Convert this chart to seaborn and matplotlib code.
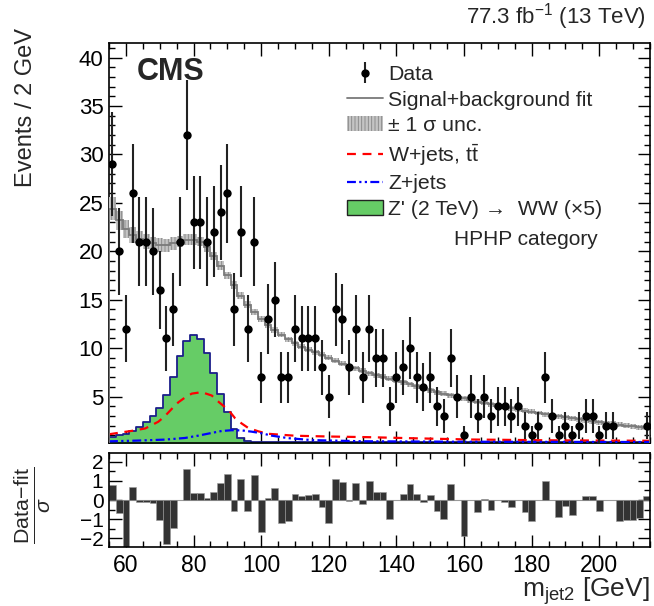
import numpy as np
import pandas as pd
import matplotlib
matplotlib.use("Agg")
import matplotlib.pyplot as plt
import seaborn as sns
from matplotlib.ticker import MultipleLocator
from matplotlib.lines import Line2D
from matplotlib.patches import Patch

# ---------------- data ----------------
bin_edges = np.arange(55, 216, 2)          # 2 GeV bins, 55..215
bin_centers = np.arange(56, 215, 2)

data_counts = [29, 20, 12, 26, 21, 21, 20, 16, 11, 14,
               21, 32, 23, 23, 21, 22, 24, 26, 14, 22,
               12, 21, 7, 13, 15, 7, 7, 12, 11, 11,
               11, 8, 5, 14, 13, 8, 12, 7, 12, 9,
               9, 4, 7, 8, 10, 7, 6, 7, 4, 3,
               9, 5, 1, 5, 3, 5, 3, 4, 4, 3,
               4, 2, 1, 2, 7, 3, 1, 2, 1, 2,
               3, 3, 1, 2, 2, 0, 0, 0, 0, 2]

fit_values = [24.4, 23.2, 22.3, 21.7, 21.3, 21.0, 20.8, 20.65, 20.6, 20.8,
              21.0, 21.2, 21.2, 21.0, 20.4, 19.5, 18.5, 17.5, 16.5, 15.4,
              14.5, 13.7, 13.0, 12.4, 11.9, 11.4, 10.9, 10.5, 10.15, 9.85,
              9.55, 9.3, 9.0, 8.7, 8.4, 8.15, 7.9, 7.65, 7.4, 7.2,
              7.05, 6.85, 6.65, 6.45, 6.25, 6.05, 5.85, 5.65, 5.45, 5.3,
              5.12, 4.95, 4.8, 4.62, 4.48, 4.35, 4.2, 4.06, 3.92, 3.78,
              3.66, 3.53, 3.41, 3.3, 3.18, 3.06, 2.95, 2.85, 2.74, 2.64,
              2.53, 2.44, 2.35, 2.26, 2.17, 2.08, 2.0, 1.92, 1.84, 1.76]

fit_unc = [1.2, 1.0, 0.9, 0.85, 0.8, 0.75, 0.7, 0.7, 0.65, 0.65,
           0.6, 0.6, 0.55, 0.5, 0.5, 0.45, 0.45, 0.4, 0.4, 0.35,
           0.35, 0.3, 0.3, 0.3, 0.3, 0.28, 0.28, 0.28, 0.27, 0.27,
           0.27, 0.26, 0.26, 0.26, 0.26, 0.25, 0.25, 0.25, 0.25, 0.25,
           0.25, 0.25, 0.25, 0.25, 0.25, 0.25, 0.25, 0.25, 0.25, 0.25,
           0.25, 0.25, 0.25, 0.25, 0.25, 0.25, 0.25, 0.25, 0.25, 0.25,
           0.25, 0.25, 0.25, 0.25, 0.25, 0.25, 0.25, 0.25, 0.25, 0.25,
           0.25, 0.25, 0.25, 0.25, 0.25, 0.25, 0.25, 0.25, 0.25, 0.25]

signal_values = [0.86, 1.0, 1.1, 1.45, 1.9, 2.35, 3.0, 3.8, 5.15, 7.05,
                 9.2, 10.7, 11.3, 10.9, 9.5, 7.45, 5.3, 3.45, 1.65, 0.7,
                 0.45] + [0.28] * 59

wjets_mass = [55, 58.7, 61.7, 65.7, 69.6, 71.6, 73.5, 75.5, 77.5, 79.5,
              82.4, 85.4, 86.9, 89.3, 90.8, 92.3, 94.3, 96.2, 99.2, 102.1,
              110, 120, 132, 146, 162, 185, 215]
wjets_values = [1.1, 1.3, 1.45, 1.7, 2.4, 3.0, 3.7, 4.4, 4.9, 5.3,
                5.45, 5.1, 4.6, 3.9, 3.4, 2.75, 2.2, 1.75, 1.4, 1.15,
                0.95, 0.87, 0.8, 0.68, 0.56, 0.48, 0.43]

zjets_mass = [55, 63.6, 71.6, 77.5, 81.4, 85.4, 88.3, 91.3, 94.3, 97.2,
              100.2, 103.1, 108, 115, 130, 160, 215]
zjets_values = [0.37, 0.45, 0.55, 0.72, 0.96, 1.24, 1.44, 1.52, 1.5, 1.37,
                1.2, 0.96, 0.7, 0.5, 0.38, 0.33, 0.3]

pull_values = [0.77, -0.70, -3.0, 0.67, -0.11, -0.10, -0.18, -1.02, -2.27, -1.45,
               0.02, 1.64, 0.34, 0.37, 0.10, 0.43, 0.89, 1.36, -0.58, 1.12,
               -0.58, 1.29, -1.68, 0.08, 0.60, -1.22, -1.10, 0.32, 0.20, 0.25,
               0.32, -0.36, -1.22, 1.12, 0.95, -0.06, 0.89, -0.23, 0.98, 0.43,
               0.43, -1.00, 0.00, 0.32, 0.84, 0.32, -0.10, 0.25, -0.58, -1.00,
               0.84, 0.00, -1.88, 0.00, -0.64, 0.06, -0.53, 0.00, -0.10, -0.37,
               0.00, -0.64, -1.10, 0.00, 1.00, 0.00, -0.88, -0.32, -0.76, 0.00,
               0.20, 0.20, -0.58, 0.00, 0.00, -1.10, -1.05, -1.02, -0.96, 0.20]

x_ticks = [60, 80, 100, 120, 140, 160, 180, 200]

# ---------------- style ----------------
sns.set_theme(style="ticks")
plt.rcParams["font.family"] = ["Liberation Sans", "DejaVu Sans"]
plt.rcParams["mathtext.fontset"] = "custom"
plt.rcParams["mathtext.rm"] = "Liberation Sans"
plt.rcParams["mathtext.it"] = "Liberation Sans:italic"
plt.rcParams["mathtext.bf"] = "Liberation Sans:bold"
plt.rcParams["mathtext.sf"] = "Liberation Sans"
plt.rcParams["hatch.linewidth"] = 0.6

GREEN = "#66cc66"
NAVY = "#1b1f8a"
FITGREY = "#7a7a7a"
BANDFACE = "#c4c4c4"
BANDHATCH = "#858585"

fig = plt.figure(figsize=(6.54, 6.06), dpi=100)
ax = fig.add_axes([109 / 654, 1 - 443 / 606, 541 / 654, 400 / 606])
rax = fig.add_axes([109 / 654, 1 - 547 / 606, 541 / 654, 94 / 606])

df = pd.DataFrame({"m": bin_centers, "n": data_counts, "fit": fit_values,
                   "unc": fit_unc, "sig": signal_values, "pull": pull_values})

# signal histogram
sns.histplot(data=df, x="m", weights="sig", binwidth=2, binrange=(55, 215),
             element="step", fill=True, color=GREEN, alpha=1, edgecolor=NAVY,
             linewidth=1.3, ax=ax, zorder=1)

# background components
sns.lineplot(x=wjets_mass, y=wjets_values, color="red", linewidth=1.6,
             linestyle=(0, (4, 3)), ax=ax, zorder=3)
sns.lineplot(x=zjets_mass, y=zjets_values, color="blue", linewidth=1.6,
             linestyle=(0, (4, 1.5, 1, 1.5, 1, 1.5)), ax=ax, zorder=3)

# fit band and fit line
fit = np.array(fit_values)
unc = np.array(fit_unc)
ax.stairs(fit + unc, bin_edges, baseline=fit - unc, fill=True,
          facecolor=BANDFACE, edgecolor=BANDHATCH, hatch="|||||",
          linewidth=0, zorder=4)
ax.stairs(fit, bin_edges, color=FITGREY, linewidth=1.3, zorder=5)

# data
dd = df[df["n"] > 0]
err = ax.errorbar(dd["m"], dd["n"], yerr=np.sqrt(dd["n"]), fmt="o",
                  color="black", ecolor="#222222", elinewidth=1.5,
                  markersize=5, capsize=0, zorder=6)
sns.scatterplot(data=dd, x="m", y="n", color="black", s=26, linewidth=0,
                ax=ax, zorder=7)

ax.set_xlim(55, 215)
ax.set_ylim(0.2, 41.5)
ax.set_xlabel("")
ax.set_ylabel("")
ax.xaxis.set_major_locator(MultipleLocator(20))
ax.xaxis.set_minor_locator(MultipleLocator(5))
ax.set_yticks([5, 10, 15, 20, 25, 30, 35, 40])
ax.yaxis.set_minor_locator(MultipleLocator(1))
ax.tick_params(axis="x", labelbottom=False)

# ratio panel
sns.histplot(data=df, x="m", weights="pull", binwidth=2, binrange=(55, 215),
             element="bars", fill=True, color="#333333", alpha=1,
             edgecolor="#9a9a9a", linewidth=0.4, ax=rax)
rax.axhline(0, color="#9a9a9a", linewidth=0.8, zorder=0)
rax.set_xlim(55, 215)
rax.set_ylim(-2.45, 2.45)
rax.set_xlabel("")
rax.set_ylabel("")
rax.set_xticks(x_ticks)
rax.xaxis.set_minor_locator(MultipleLocator(5))
rax.set_yticks([-2, -1, 0, 1, 2])
rax.yaxis.set_minor_locator(MultipleLocator(0.5))

for a in (ax, rax):
    for s in a.spines.values():
        s.set_linewidth(1.2)
        s.set_color("black")
    a.tick_params(which="both", direction="in", top=True, right=True,
                  width=1.0, colors="black")
    a.tick_params(which="major", length=9)
    a.tick_params(which="minor", length=4.5)
ax.tick_params(axis="y", labelsize=16, pad=4)
rax.tick_params(axis="y", labelsize=15, pad=4)
rax.tick_params(axis="x", labelsize=16.5, pad=5)

# legend
handles = [err,
           Line2D([], [], color=FITGREY, linewidth=1.3),
           Patch(facecolor=BANDFACE, edgecolor=BANDHATCH, hatch="|||||", linewidth=0),
           Line2D([], [], color="red", linewidth=1.6, linestyle=(0, (4, 3))),
           Line2D([], [], color="blue", linewidth=1.6, linestyle=(0, (4, 1.5, 1, 1.5, 1, 1.5))),
           Patch(facecolor=GREEN, edgecolor="#222222", linewidth=1.0)]
labels = ["Data", "Signal+background fit", "\u00b1 1 \u03c3 unc.",
          "W+jets, t$\\bar{\\mathrm{t}}$", "Z+jets",
          "Z' (2 TeV) \u2192  WW (\u00d75)"]
leg = ax.legend(handles, labels, loc="upper left", bbox_to_anchor=(0.44, 0.945),
                frameon=False, fontsize=15.3, handlelength=1.7, handletextpad=0.25,
                labelspacing=0.31, borderaxespad=0, borderpad=0)

ax.text(0.904, 0.508, "HPHP category", transform=ax.transAxes, ha="right",
        va="center", fontsize=15)
ax.text(0.052, 0.928, "CMS", transform=ax.transAxes, ha="left", va="center",
        fontsize=22, fontweight="bold")

fig.text(0.987, 0.972, "77.3 fb$^{-1}$ (13 TeV)", ha="right", va="center",
         fontsize=16)
fig.text(26 / 654, 1 - 28 / 606, "Events / 2 GeV", rotation=90, ha="center",
         va="top", fontsize=17)
fig.text(32 / 654, 1 - 505 / 606, "$\\frac{\\mathrm{Data\\!-\\!fit}}{\\sigma}$",
         rotation=90, ha="center", va="center", fontsize=22)
fig.text(0.994, 1 - 597 / 606, "m$_{\\mathrm{jet2}}$ [GeV]", ha="right",
         va="baseline", fontsize=19)

fig.savefig("out.png", dpi=100)
